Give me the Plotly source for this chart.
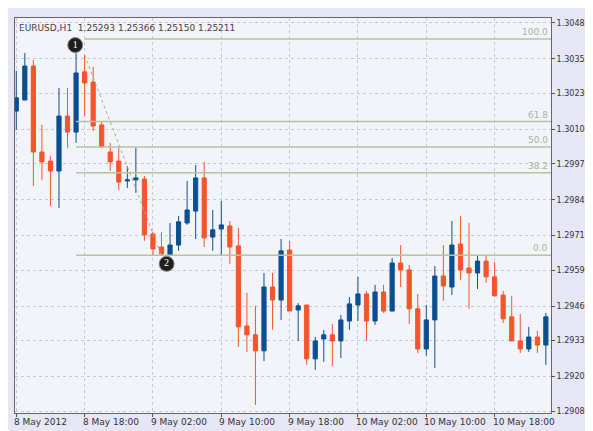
import plotly.graph_objects as go

# hourly bars, index 0 = 8 May 2012 10:00
bars = list(range(63))
opens = [1.30166, 1.30206, 1.30329, 1.30018, 1.29985, 1.29949, 1.30148, 1.30090, 1.30308, 1.30271,
         1.30116, 1.30018, 1.29985, 1.29913, 1.29917, 1.29920, 1.29721, 1.29674, 1.29645, 1.29681,
         1.29761, 1.29804, 1.29924, 1.29710, 1.29739, 1.29750, 1.29678, 1.29388, 1.29356, 1.29298,
         1.29529, 1.29482, 1.29663, 1.29446, 1.29464, 1.29269, 1.29341, 1.29356, 1.29334, 1.29406,
         1.29464, 1.29504, 1.29406, 1.29511, 1.29442, 1.29616, 1.29591, 1.29450, 1.29305, 1.29410,
         1.29569, 1.29529, 1.29685, 1.29598, 1.29580, 1.29623, 1.29566, 1.29500, 1.29421, 1.29334,
         1.29305, 1.29348, 1.29319]
highs = [1.30311, 1.30376, 1.30351, 1.30116, 1.30004, 1.30250, 1.30250, 1.30376, 1.30369, 1.30326,
         1.30130, 1.30051, 1.30033, 1.29967, 1.30033, 1.29931, 1.29728, 1.29728, 1.29761, 1.29786,
         1.29913, 1.29971, 1.29982, 1.29808, 1.29841, 1.29768, 1.29743, 1.29508, 1.29461, 1.29580,
         1.29580, 1.29703, 1.29696, 1.29471, 1.29464, 1.29348, 1.29374, 1.29395, 1.29428, 1.29493,
         1.29566, 1.29515, 1.29537, 1.29537, 1.29634, 1.29681, 1.29609, 1.29504, 1.29464, 1.29605,
         1.29681, 1.29768, 1.29786, 1.29761, 1.29645, 1.29645, 1.29620, 1.29515, 1.29497, 1.29432,
         1.29385, 1.29370, 1.29435]
lows = [1.30098, 1.30206, 1.29895, 1.29917, 1.29823, 1.29815, 1.30033, 1.30051, 1.30148, 1.30094,
        1.30036, 1.29949, 1.29880, 1.29888, 1.29870, 1.29696, 1.29645, 1.29642, 1.29642, 1.29660,
        1.29754, 1.29703, 1.29674, 1.29660, 1.29645, 1.29613, 1.29312, 1.29294, 1.29102, 1.29261,
        1.29374, 1.29410, 1.29442, 1.29334, 1.29247, 1.29229, 1.29258, 1.29243, 1.29272, 1.29374,
        1.29406, 1.29334, 1.29392, 1.29435, 1.29442, 1.29529, 1.29395, 1.29290, 1.29280, 1.29236,
        1.29479, 1.29500, 1.29555, 1.29450, 1.29522, 1.29544, 1.29497, 1.29399, 1.29334, 1.29290,
        1.29294, 1.29290, 1.29247]
closes = [1.30214, 1.30329, 1.30018, 1.29982, 1.29949, 1.30148, 1.30090, 1.30304, 1.30268, 1.30112,
          1.30036, 1.29982, 1.29909, 1.29917, 1.29924, 1.29718, 1.29667, 1.29649, 1.29681, 1.29765,
          1.29808, 1.29924, 1.29707, 1.29736, 1.29754, 1.29674, 1.29385, 1.29356, 1.29298, 1.29529,
          1.29482, 1.29660, 1.29442, 1.29461, 1.29269, 1.29334, 1.29356, 1.29334, 1.29410, 1.29468,
          1.29504, 1.29406, 1.29511, 1.29442, 1.29616, 1.29591, 1.29450, 1.29305, 1.29410, 1.29569,
          1.29533, 1.29681, 1.29591, 1.29580, 1.29623, 1.29566, 1.29497, 1.29414, 1.29334, 1.29305,
          1.29348, 1.29319, 1.29421]

fib_labels = ["100.0", "61.8", "50.0", "38.2", "0.0"]
fib_prices = [1.30427, 1.30128, 1.30036, 1.29943, 1.29644]
fib_start = [8, 7, 7, 7, 7]

swing_x = [8, 17]
swing_y = [1.30369, 1.29642]
point_labels = ["1", "2"]
point_x = [6.9, 17.6]
point_y = [1.30405, 1.29613]

x_tickvals = [0, 8, 16, 24, 32, 40, 48, 56]
x_ticktext = ["8 May 2012", "8 May 18:00", "9 May 02:00", "9 May 10:00", "9 May 18:00",
              "10 May 02:00", "10 May 10:00", "10 May 18:00"]
y_tickvals = [1.30485, 1.30355, 1.30230, 1.30100, 1.29975, 1.29845, 1.29715, 1.29590,
              1.29460, 1.29335, 1.29205, 1.29080]

blue = "#0B4F92"
red = "#F4552A"
fib_col = "#B5C49A"
x_end = 62.6

fig = go.Figure()
fig.add_trace(go.Candlestick(
    x=bars, open=opens, high=highs, low=lows, close=closes,
    increasing=dict(line=dict(color=blue, width=1), fillcolor=blue),
    decreasing=dict(line=dict(color=red, width=1), fillcolor=red),
    whiskerwidth=0, showlegend=False, hoverinfo="skip"))

for lab, p, s in zip(fib_labels, fib_prices, fib_start):
    fig.add_trace(go.Scatter(x=[s, x_end], y=[p, p], mode="lines",
                             line=dict(color=fib_col, width=1.5), showlegend=False, hoverinfo="skip"))
    fig.add_annotation(x=x_end, y=p, text=lab, showarrow=False, xanchor="right", yanchor="bottom",
                       font=dict(size=9, color="#AAB59A", family="DejaVu Sans"), xshift=-1)

fig.add_trace(go.Scatter(x=swing_x, y=swing_y, mode="lines",
                         line=dict(color="#9DB08A", width=1, dash="dot"), showlegend=False, hoverinfo="skip"))

fig.add_trace(go.Scatter(x=point_x, y=point_y, mode="markers+text", text=point_labels,
                         marker=dict(size=15, color="#1E1E1E", line=dict(color="#888", width=1)),
                         textfont=dict(color="white", size=10, family="DejaVu Sans Bold"),
                         textposition="middle center", showlegend=False, hoverinfo="skip"))

for v, t in zip(x_tickvals, x_ticktext):
    fig.add_annotation(x=v, y=0, yref="paper", yanchor="top", xanchor="left", text=t, showarrow=False,
                       font=dict(size=9, color="#333", family="DejaVu Sans"), yshift=-2, xshift=-4)

fig.add_annotation(x=0, y=1, xref="paper", yref="paper", xanchor="left", yanchor="top",
                   text="EURUSD,H1  1.25293 1.25366 1.25150 1.25211", showarrow=False,
                   font=dict(size=9, color="#444", family="DejaVu Sans"), xshift=2, yshift=-3)

fig.update_layout(
    width=593, height=431,
    margin=dict(l=7, r=50, t=10, b=26),
    paper_bgcolor="#E6E6F4", plot_bgcolor="#F3F3FA",
    xaxis=dict(range=[-0.15, x_end], tickvals=x_tickvals, showticklabels=False, ticks="outside",
               ticklen=3, tickcolor="#555", rangeslider=dict(visible=False),
               showgrid=True, gridcolor="#C8C8D4", griddash="dot", zeroline=False,
               showline=True, linecolor="#666", mirror=True),
    yaxis=dict(range=[1.29073, 1.30503], side="right", tickvals=y_tickvals,
               ticktext=["%.5f" % v for v in y_tickvals], ticks="outside", ticklen=3, tickcolor="#555",
               tickfont=dict(size=8, color="#333", family="DejaVu Sans"),
               showgrid=True, gridcolor="#C8C8D4", griddash="dot", zeroline=False,
               showline=True, linecolor="#666", mirror=True),
)

fig.write_html("out.html")
